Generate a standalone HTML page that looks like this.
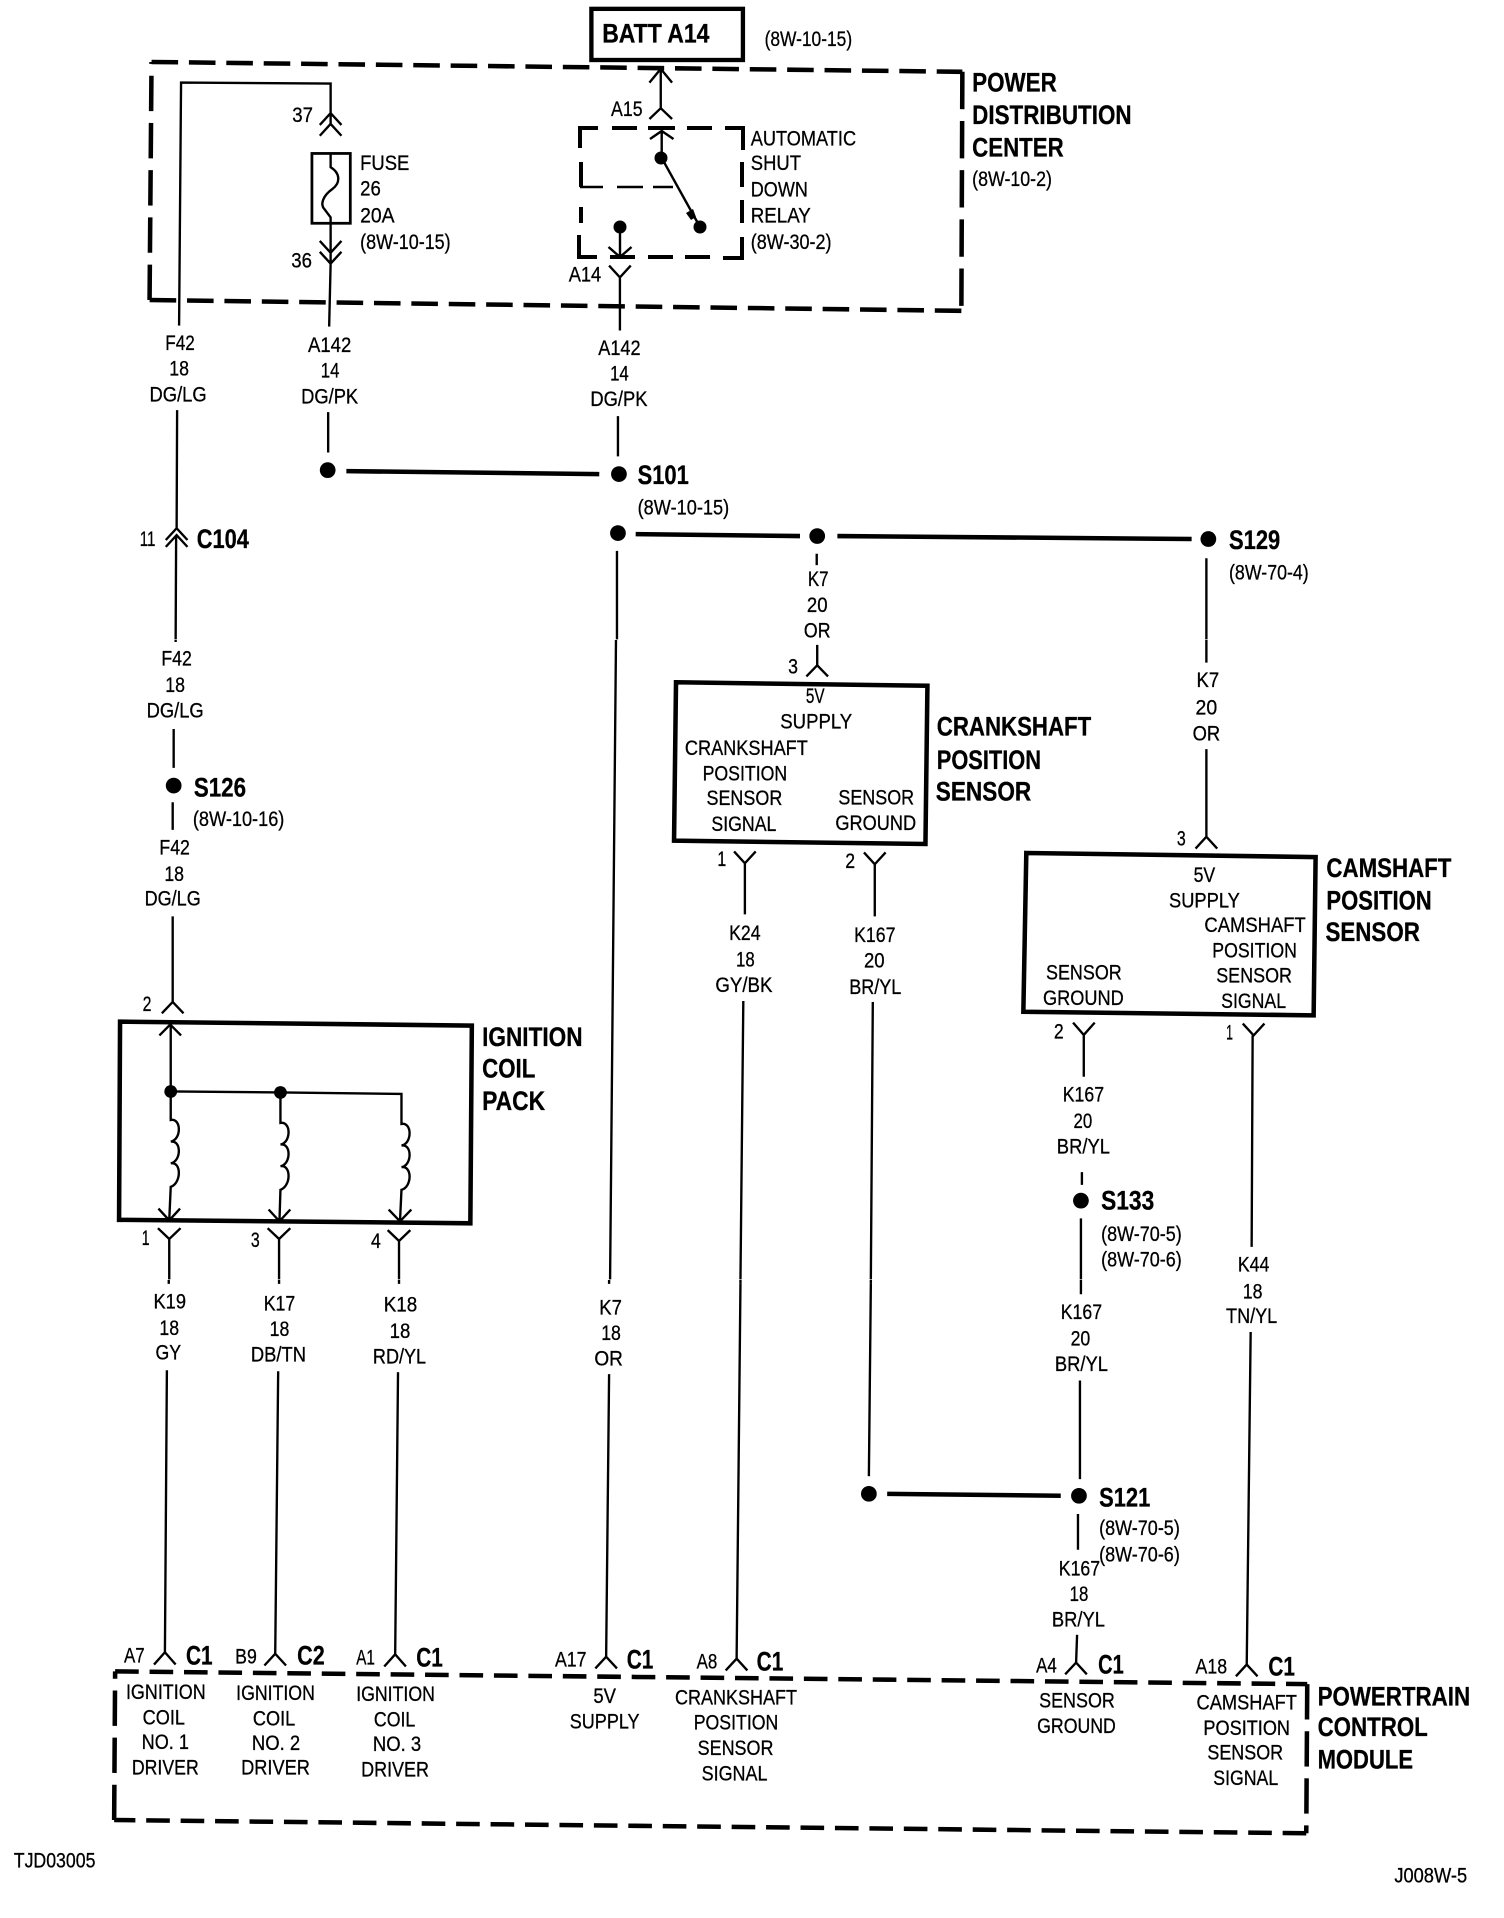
<!DOCTYPE html>
<html><head><meta charset="utf-8"><title>Wiring diagram</title>
<style>
html,body{margin:0;padding:0;background:#fff}
svg{display:block}
text{font-family:"Liberation Sans",sans-serif;font-size:21.5px;fill:#000;stroke:#000;stroke-width:.3}
.b text{font-weight:bold;font-size:27px}
.w{fill:none;stroke:#000;stroke-width:2.4}
.t{fill:none;stroke:#000;stroke-width:4.6}
.d{fill:#000}
</style></head><body>
<svg xmlns="http://www.w3.org/2000/svg" width="1504" height="1918" viewBox="0 0 1504 1918">
<rect width="1504" height="1918" fill="#fff"/>

<!-- Relay, in page coordinates -->
<path class="t" style="stroke-width:4" d="M598,128 H580 V148 M612,128 H637 M648,128 H675 M687,128 H712 M725,128 H743 V150 M742,162 V187 M742,200 V223 M742,237 V258 H723 M710,257 H685 M673,257 H648 M635,257 H610 M597,257 H579 V235 M581,223 V207 M581,187 V162"/>
<path class="w" style="stroke-width:2.6" d="M580,187 H603 M617,187 H643 M653,187 H673"/>
<path class="w" d="M661.7,132 V158 L700,227 M650,139 L661.7,131 L673.5,139 M620,227 V257 M608.5,247 L620,257 L631.5,247"/>
<circle class="d" cx="661" cy="158" r="6.5"/>
<circle class="d" cx="700" cy="227" r="6.5"/>
<circle class="d" cx="620" cy="227" r="6.5"/>
<path class="d" d="M686,213 L693,209 L696,217 L691,220 Z"/>

<!-- SECTION 1 -->
<g transform="matrix(.984 0 0 .9836 0 0)">
<rect x="601" y="9" width="154" height="52" fill="none" stroke="#000" stroke-width="4.4"/>
<path class="t" stroke-dasharray="27 11" d="M154,63 L978,73"/>
<path class="t" stroke-dasharray="38 12" d="M978,73 L977,316"/>
<path class="t" stroke-dasharray="27 11" d="M977,316 L152,305"/>
<path class="t" stroke-dasharray="36 12" d="M152,305 L154,63"/>
<path class="w" d="M182,331 L184,84 L336,85 V126 M325,127 L336,115 L347,127 M325,138 L336,126 L347,138"/>
<rect x="317" y="156" width="39" height="71" fill="none" stroke="#000" stroke-width="2.8"/>
<path class="w" d="M336,156 V170 C346,176 346,186 338,192 C328,199 325,208 330,213 L336,221 V268 M325,245 L336,257 L347,245 M325,256 L336,268 L347,256 M336,268 L334.5,332 M333.5,419 V460"/>
<path class="w" d="M671.5,70 V110 M660,84 L671.5,70 L683,84 M660,121 L671.5,110 L683,121"/>
<path class="w" d="M619,270 L630,282 L641,270 M630,282 V336 M628,423 V464"/>
<circle class="d" cx="333" cy="478" r="8"/>
<path class="t" d="M352,479 L609,482"/>
<circle class="d" cx="629" cy="482" r="8"/>
<circle class="d" cx="628" cy="542" r="8"/>
<path class="t" d="M646,543 L813,545"/>
<circle class="d" cx="830.5" cy="545" r="8"/>
<path class="t" d="M851,545 L1211,548"/>
<circle class="d" cx="1228" cy="548" r="8"/>
<path class="w" d="M627,560 V650 M830,563 V574.5 M1226,567.5 V650 M180,417 L179.5,537 M168.5,549 L179.5,537 L190.5,549 M168.5,556 L179.5,544 L190.5,556 M179,544 L178.5,650"/>
<text x="777" y="47" textLength="89" lengthAdjust="spacingAndGlyphs">(8W-10-15)</text>
<text x="988" y="189" textLength="81" lengthAdjust="spacingAndGlyphs">(8W-10-2)</text>
<text x="297" y="124" textLength="21" lengthAdjust="spacingAndGlyphs">37</text>
<text x="366" y="173" textLength="50" lengthAdjust="spacingAndGlyphs">FUSE</text>
<text x="366" y="199" textLength="21" lengthAdjust="spacingAndGlyphs">26</text>
<text x="366" y="226" textLength="35" lengthAdjust="spacingAndGlyphs">20A</text>
<text x="366" y="253" textLength="92" lengthAdjust="spacingAndGlyphs">(8W-10-15)</text>
<text x="296" y="272" textLength="21" lengthAdjust="spacingAndGlyphs">36</text>
<text x="621" y="118" textLength="32" lengthAdjust="spacingAndGlyphs">A15</text>
<text x="578" y="286" textLength="33" lengthAdjust="spacingAndGlyphs">A14</text>
<text x="763" y="148" textLength="107" lengthAdjust="spacingAndGlyphs">AUTOMATIC</text>
<text x="763" y="173" textLength="51" lengthAdjust="spacingAndGlyphs">SHUT</text>
<text x="763" y="200" textLength="58" lengthAdjust="spacingAndGlyphs">DOWN</text>
<text x="763" y="226" textLength="61" lengthAdjust="spacingAndGlyphs">RELAY</text>
<text x="763" y="253" textLength="82" lengthAdjust="spacingAndGlyphs">(8W-30-2)</text>
<text x="168" y="356" textLength="30" lengthAdjust="spacingAndGlyphs">F42</text>
<text x="172" y="382" textLength="20" lengthAdjust="spacingAndGlyphs">18</text>
<text x="152" y="408" textLength="58" lengthAdjust="spacingAndGlyphs">DG/LG</text>
<text x="313" y="358" textLength="44" lengthAdjust="spacingAndGlyphs">A142</text>
<text x="326" y="384" textLength="19" lengthAdjust="spacingAndGlyphs">14</text>
<text x="306" y="410" textLength="58" lengthAdjust="spacingAndGlyphs">DG/PK</text>
<text x="608" y="361" textLength="43" lengthAdjust="spacingAndGlyphs">A142</text>
<text x="620" y="387" textLength="19" lengthAdjust="spacingAndGlyphs">14</text>
<text x="600" y="413" textLength="58" lengthAdjust="spacingAndGlyphs">DG/PK</text>
<text x="648" y="523" textLength="93" lengthAdjust="spacingAndGlyphs">(8W-10-15)</text>
<text x="142" y="555" textLength="16" lengthAdjust="spacingAndGlyphs">11</text>
<text x="1249" y="589" textLength="81" lengthAdjust="spacingAndGlyphs">(8W-70-4)</text>
<text x="821" y="596" textLength="21" lengthAdjust="spacingAndGlyphs">K7</text>
<text x="820" y="622" textLength="21" lengthAdjust="spacingAndGlyphs">20</text>
<text x="817" y="648" textLength="27" lengthAdjust="spacingAndGlyphs">OR</text>
<g class="b">
<text x="612" y="43" textLength="109" lengthAdjust="spacingAndGlyphs">BATT A14</text>
<text x="988" y="93" textLength="86" lengthAdjust="spacingAndGlyphs">POWER</text>
<text x="988" y="126" textLength="162" lengthAdjust="spacingAndGlyphs">DISTRIBUTION</text>
<text x="988" y="159" textLength="93" lengthAdjust="spacingAndGlyphs">CENTER</text>
<text x="648" y="492" textLength="52" lengthAdjust="spacingAndGlyphs">S101</text>
<text x="200" y="557" textLength="53" lengthAdjust="spacingAndGlyphs">C104</text>
<text x="1249" y="558" textLength="52" lengthAdjust="spacingAndGlyphs">S129</text>
</g>
</g>

<!-- SECTION 2 -->
<g transform="matrix(.984 0 0 .9836 0 10.5)">
<path class="w" d="M178.5,640 V642 M176.5,730.5 V770 M175.5,805 V833 M175.5,921 V1008 M164.5,1019.5 L175.5,1008 L186.5,1019.5"/>
<circle class="d" cx="176.5" cy="788" r="8"/>
<path class="t" d="M122,1028 L479.5,1032 L478,1233 L121,1229.5 Z"/>
<path class="w" d="M162,1042 L173,1031 L184,1042 M173.5,1031 V1128 c11,-2 11,20 0,22 c11,-2 11,20 0,22 c11,-2 11,20 0,24 L172,1230 M161,1218 L172,1230 L183,1218"/>
<path class="w" d="M173.5,1099 L285,1100 L408,1101.5 V1132 c11,-2 11,20 0,22 c11,-2 11,20 0,22 c11,-2 11,20 0,23 L406.5,1231 M395,1219 L406.5,1231 L418,1219"/>
<path class="w" d="M285,1100 V1131 c11,-2 11,20 0,22 c11,-2 11,20 0,22 c11,-2 11,20 0,24 L284,1231 M273,1219 L284,1231 L295,1219"/>
<circle class="d" cx="173.5" cy="1099" r="6.5"/>
<circle class="d" cx="285" cy="1100" r="6.5"/>
<path class="w" d="M160.5,1238 L172,1249 L183.5,1238 M172,1249 V1290 M272,1238 L283.6,1249 L295,1238 M283.6,1249 V1290 M394,1240 L405.5,1251 L417,1240 M405.5,1251 V1290"/>
<path class="w" d="M626,640 L620,1290 M830.5,645 V665.7 M819.5,677 L830.5,665.7 L841.5,677"/>
<path class="t" d="M687,683 L942.5,686.5 L940.5,847.4 L685,844 Z"/>
<path class="w" d="M746,855 L757,867 L768,855 M757,867 V919 M878,856 L889,868 L900,856 M889,868 V921 M755.4,1007 L752.5,1290 M887,1008 L885,1290"/>
<path class="w" d="M1226,640 V663 M1226,751 V840 M1215,852 L1226,840 L1237,852"/>
<path class="t" d="M1043,856.5 L1337,860.7 L1335,1021.6 L1040,1018 Z"/>
<path class="w" d="M1090.5,1029 L1101.4,1041.5 L1112.5,1029 M1101.4,1041.5 V1084 M1263,1030 L1274,1042 L1285,1030 M1273,1042 L1272,1257 M1099.5,1181 V1194 M1098.5,1228 V1290"/>
<circle class="d" cx="1098.5" cy="1210" r="8"/>
<text x="164" y="666" textLength="31" lengthAdjust="spacingAndGlyphs">F42</text>
<text x="168" y="693" textLength="20" lengthAdjust="spacingAndGlyphs">18</text>
<text x="149" y="719" textLength="58" lengthAdjust="spacingAndGlyphs">DG/LG</text>
<text x="196" y="829" textLength="93" lengthAdjust="spacingAndGlyphs">(8W-10-16)</text>
<text x="162" y="858" textLength="31" lengthAdjust="spacingAndGlyphs">F42</text>
<text x="167" y="885" textLength="20" lengthAdjust="spacingAndGlyphs">18</text>
<text x="147" y="910" textLength="57" lengthAdjust="spacingAndGlyphs">DG/LG</text>
<text x="801" y="674" textLength="10" lengthAdjust="spacingAndGlyphs">3</text>
<text x="819" y="704" textLength="19" lengthAdjust="spacingAndGlyphs">5V</text>
<text x="793" y="730" textLength="73" lengthAdjust="spacingAndGlyphs">SUPPLY</text>
<text x="696" y="757" textLength="125" lengthAdjust="spacingAndGlyphs">CRANKSHAFT</text>
<text x="714" y="783" textLength="86" lengthAdjust="spacingAndGlyphs">POSITION</text>
<text x="718" y="808" textLength="77" lengthAdjust="spacingAndGlyphs">SENSOR</text>
<text x="723" y="834" textLength="66" lengthAdjust="spacingAndGlyphs">SIGNAL</text>
<text x="852" y="807" textLength="77" lengthAdjust="spacingAndGlyphs">SENSOR</text>
<text x="849" y="833" textLength="82" lengthAdjust="spacingAndGlyphs">GROUND</text>
<text x="729" y="870" textLength="9" lengthAdjust="spacingAndGlyphs">1</text>
<text x="859" y="872" textLength="10" lengthAdjust="spacingAndGlyphs">2</text>
<text x="741" y="945" textLength="32" lengthAdjust="spacingAndGlyphs">K24</text>
<text x="748" y="972" textLength="19" lengthAdjust="spacingAndGlyphs">18</text>
<text x="727" y="998" textLength="58" lengthAdjust="spacingAndGlyphs">GY/BK</text>
<text x="868" y="947" textLength="42" lengthAdjust="spacingAndGlyphs">K167</text>
<text x="878" y="973" textLength="21" lengthAdjust="spacingAndGlyphs">20</text>
<text x="863" y="1000" textLength="53" lengthAdjust="spacingAndGlyphs">BR/YL</text>
<text x="1216" y="688" textLength="23" lengthAdjust="spacingAndGlyphs">K7</text>
<text x="1215" y="716" textLength="22" lengthAdjust="spacingAndGlyphs">20</text>
<text x="1212" y="742" textLength="28" lengthAdjust="spacingAndGlyphs">OR</text>
<text x="1196" y="849" textLength="9" lengthAdjust="spacingAndGlyphs">3</text>
<text x="1213" y="886" textLength="22" lengthAdjust="spacingAndGlyphs">5V</text>
<text x="1188" y="912" textLength="72" lengthAdjust="spacingAndGlyphs">SUPPLY</text>
<text x="1224" y="937" textLength="103" lengthAdjust="spacingAndGlyphs">CAMSHAFT</text>
<text x="1232" y="963" textLength="86" lengthAdjust="spacingAndGlyphs">POSITION</text>
<text x="1236" y="988" textLength="77" lengthAdjust="spacingAndGlyphs">SENSOR</text>
<text x="1241" y="1014" textLength="66" lengthAdjust="spacingAndGlyphs">SIGNAL</text>
<text x="1063" y="985" textLength="77" lengthAdjust="spacingAndGlyphs">SENSOR</text>
<text x="1060" y="1011" textLength="82" lengthAdjust="spacingAndGlyphs">GROUND</text>
<text x="1071" y="1045" textLength="10" lengthAdjust="spacingAndGlyphs">2</text>
<text x="1246" y="1046" textLength="7" lengthAdjust="spacingAndGlyphs">1</text>
<text x="1080" y="1109" textLength="42" lengthAdjust="spacingAndGlyphs">K167</text>
<text x="1091" y="1136" textLength="19" lengthAdjust="spacingAndGlyphs">20</text>
<text x="1074" y="1162" textLength="54" lengthAdjust="spacingAndGlyphs">BR/YL</text>
<text x="1119" y="1251" textLength="82" lengthAdjust="spacingAndGlyphs">(8W-70-5)</text>
<text x="1119" y="1277" textLength="82" lengthAdjust="spacingAndGlyphs">(8W-70-6)</text>
<text x="1258" y="1282" textLength="32" lengthAdjust="spacingAndGlyphs">K44</text>
<text x="145" y="1017" textLength="9" lengthAdjust="spacingAndGlyphs">2</text>
<text x="144" y="1255" textLength="8" lengthAdjust="spacingAndGlyphs">1</text>
<text x="255" y="1257" textLength="9" lengthAdjust="spacingAndGlyphs">3</text>
<text x="377" y="1258" textLength="10" lengthAdjust="spacingAndGlyphs">4</text>
<g class="b">
<text x="197" y="799" textLength="53" lengthAdjust="spacingAndGlyphs">S126</text>
<text x="952" y="737" textLength="157" lengthAdjust="spacingAndGlyphs">CRANKSHAFT</text>
<text x="952" y="771" textLength="106" lengthAdjust="spacingAndGlyphs">POSITION</text>
<text x="951" y="803" textLength="97" lengthAdjust="spacingAndGlyphs">SENSOR</text>
<text x="1348" y="881" textLength="127" lengthAdjust="spacingAndGlyphs">CAMSHAFT</text>
<text x="1348" y="914" textLength="107" lengthAdjust="spacingAndGlyphs">POSITION</text>
<text x="1347" y="946" textLength="96" lengthAdjust="spacingAndGlyphs">SENSOR</text>
<text x="1119" y="1219" textLength="54" lengthAdjust="spacingAndGlyphs">S133</text>
<text x="490" y="1053" textLength="102" lengthAdjust="spacingAndGlyphs">IGNITION</text>
<text x="490" y="1085" textLength="54" lengthAdjust="spacingAndGlyphs">COIL</text>
<text x="490" y="1118" textLength="64" lengthAdjust="spacingAndGlyphs">PACK</text>
</g>
</g>

<!-- SECTION 3 -->
<g transform="matrix(.984 0 0 .981 0 24.3)">
<path class="w" d="M171.5,1280 V1284 M283.6,1280 V1284 M405.5,1280 V1284 M619,1280 V1284 M752.5,1280 V1284 M885,1280 V1284 M1098.5,1280 V1294.5"/>
<path class="w" d="M169.6,1372 L167.6,1659.5 M156.5,1672 L167.6,1659.5 L178.5,1672"/>
<path class="w" d="M282.7,1373 L279.7,1661 M268.7,1673 L279.7,1661 L290.7,1673"/>
<path class="w" d="M404.5,1374 L401.6,1661.6 M390.5,1674 L401.6,1661.6 L412.5,1674"/>
<path class="w" d="M619,1376 L616,1664 M605,1676 L616,1664 L627,1676"/>
<path class="w" d="M752.5,1284 L748.6,1666 M737.5,1678 L748.6,1666 L759.5,1678"/>
<path class="w" d="M885,1284 L883,1480 M1097.5,1382.5 V1483 M1095.5,1518.5 V1555 M1094.6,1641.7 L1093.6,1670 M1082.5,1682 L1093.6,1670 L1104.5,1682"/>
<path class="w" d="M1271,1333 L1267,1672 M1256,1684 L1267,1672 L1278,1684"/>
<circle class="d" cx="883" cy="1498" r="8"/>
<path class="t" d="M901.6,1498 L1078,1500"/>
<circle class="d" cx="1096.5" cy="1500" r="8"/>
<path class="t" stroke-dasharray="24 11" d="M117,1679 L1328.5,1692"/>
<path class="t" stroke-dasharray="36 12" d="M1328.5,1692 L1327.5,1844"/>
<path class="t" stroke-dasharray="24 11" d="M1327.5,1844 L116,1830.5"/>
<path class="t" stroke-dasharray="36 12" d="M116,1830.5 L117,1679"/>
<text x="156" y="1309" textLength="33" lengthAdjust="spacingAndGlyphs">K19</text>
<text x="162" y="1336" textLength="20" lengthAdjust="spacingAndGlyphs">18</text>
<text x="158" y="1361" textLength="26" lengthAdjust="spacingAndGlyphs">GY</text>
<text x="268" y="1311" textLength="32" lengthAdjust="spacingAndGlyphs">K17</text>
<text x="274" y="1337" textLength="20" lengthAdjust="spacingAndGlyphs">18</text>
<text x="255" y="1363" textLength="56" lengthAdjust="spacingAndGlyphs">DB/TN</text>
<text x="390" y="1312" textLength="34" lengthAdjust="spacingAndGlyphs">K18</text>
<text x="396" y="1339" textLength="21" lengthAdjust="spacingAndGlyphs">18</text>
<text x="379" y="1365" textLength="54" lengthAdjust="spacingAndGlyphs">RD/YL</text>
<text x="609" y="1315" textLength="23" lengthAdjust="spacingAndGlyphs">K7</text>
<text x="611" y="1341" textLength="20" lengthAdjust="spacingAndGlyphs">18</text>
<text x="604" y="1367" textLength="29" lengthAdjust="spacingAndGlyphs">OR</text>
<text x="1078" y="1320" textLength="42" lengthAdjust="spacingAndGlyphs">K167</text>
<text x="1088" y="1347" textLength="20" lengthAdjust="spacingAndGlyphs">20</text>
<text x="1072" y="1373" textLength="54" lengthAdjust="spacingAndGlyphs">BR/YL</text>
<text x="1263" y="1299" textLength="20" lengthAdjust="spacingAndGlyphs">18</text>
<text x="1246" y="1324" textLength="52" lengthAdjust="spacingAndGlyphs">TN/YL</text>
<text x="1117" y="1540" textLength="82" lengthAdjust="spacingAndGlyphs">(8W-70-5)</text>
<text x="1117" y="1567" textLength="82" lengthAdjust="spacingAndGlyphs">(8W-70-6)</text>
<text x="1076" y="1581" textLength="42" lengthAdjust="spacingAndGlyphs">K167</text>
<text x="1087" y="1607" textLength="19" lengthAdjust="spacingAndGlyphs">18</text>
<text x="1069" y="1633" textLength="54" lengthAdjust="spacingAndGlyphs">BR/YL</text>
<text x="126" y="1670" textLength="21" lengthAdjust="spacingAndGlyphs">A7</text>
<text x="239" y="1671" textLength="22" lengthAdjust="spacingAndGlyphs">B9</text>
<text x="362" y="1672" textLength="19" lengthAdjust="spacingAndGlyphs">A1</text>
<text x="564" y="1674" textLength="32" lengthAdjust="spacingAndGlyphs">A17</text>
<text x="708" y="1676" textLength="21" lengthAdjust="spacingAndGlyphs">A8</text>
<text x="1053" y="1680" textLength="21" lengthAdjust="spacingAndGlyphs">A4</text>
<text x="1215" y="1681" textLength="32" lengthAdjust="spacingAndGlyphs">A18</text>
<text x="128" y="1707" textLength="81" lengthAdjust="spacingAndGlyphs">IGNITION</text>
<text x="145" y="1733" textLength="43" lengthAdjust="spacingAndGlyphs">COIL</text>
<text x="144" y="1758" textLength="48" lengthAdjust="spacingAndGlyphs">NO. 1</text>
<text x="134" y="1784" textLength="68" lengthAdjust="spacingAndGlyphs">DRIVER</text>
<text x="240" y="1708" textLength="80" lengthAdjust="spacingAndGlyphs">IGNITION</text>
<text x="257" y="1734" textLength="43" lengthAdjust="spacingAndGlyphs">COIL</text>
<text x="256" y="1759" textLength="49" lengthAdjust="spacingAndGlyphs">NO. 2</text>
<text x="245" y="1784" textLength="70" lengthAdjust="spacingAndGlyphs">DRIVER</text>
<text x="362" y="1709" textLength="80" lengthAdjust="spacingAndGlyphs">IGNITION</text>
<text x="380" y="1735" textLength="42" lengthAdjust="spacingAndGlyphs">COIL</text>
<text x="379" y="1760" textLength="49" lengthAdjust="spacingAndGlyphs">NO. 3</text>
<text x="367" y="1786" textLength="69" lengthAdjust="spacingAndGlyphs">DRIVER</text>
<text x="603" y="1711" textLength="23" lengthAdjust="spacingAndGlyphs">5V</text>
<text x="579" y="1737" textLength="71" lengthAdjust="spacingAndGlyphs">SUPPLY</text>
<text x="686" y="1713" textLength="124" lengthAdjust="spacingAndGlyphs">CRANKSHAFT</text>
<text x="705" y="1738" textLength="86" lengthAdjust="spacingAndGlyphs">POSITION</text>
<text x="709" y="1764" textLength="77" lengthAdjust="spacingAndGlyphs">SENSOR</text>
<text x="713" y="1790" textLength="67" lengthAdjust="spacingAndGlyphs">SIGNAL</text>
<text x="1056" y="1716" textLength="77" lengthAdjust="spacingAndGlyphs">SENSOR</text>
<text x="1054" y="1742" textLength="80" lengthAdjust="spacingAndGlyphs">GROUND</text>
<text x="1216" y="1718" textLength="102" lengthAdjust="spacingAndGlyphs">CAMSHAFT</text>
<text x="1223" y="1744" textLength="88" lengthAdjust="spacingAndGlyphs">POSITION</text>
<text x="1227" y="1769" textLength="77" lengthAdjust="spacingAndGlyphs">SENSOR</text>
<text x="1233" y="1795" textLength="66" lengthAdjust="spacingAndGlyphs">SIGNAL</text>
<text x="14" y="1879" textLength="83" lengthAdjust="spacingAndGlyphs">TJD03005</text>
<text x="1417" y="1894" textLength="74" lengthAdjust="spacingAndGlyphs">J008W-5</text>
<g class="b">
<text x="1117" y="1511" textLength="52" lengthAdjust="spacingAndGlyphs">S121</text>
<text x="189" y="1672" textLength="27" lengthAdjust="spacingAndGlyphs">C1</text>
<text x="302" y="1672" textLength="28" lengthAdjust="spacingAndGlyphs">C2</text>
<text x="423" y="1674" textLength="27" lengthAdjust="spacingAndGlyphs">C1</text>
<text x="637" y="1676" textLength="27" lengthAdjust="spacingAndGlyphs">C1</text>
<text x="769" y="1678" textLength="27" lengthAdjust="spacingAndGlyphs">C1</text>
<text x="1116" y="1681" textLength="26" lengthAdjust="spacingAndGlyphs">C1</text>
<text x="1289" y="1683" textLength="27" lengthAdjust="spacingAndGlyphs">C1</text>
<text x="1339" y="1714" textLength="155" lengthAdjust="spacingAndGlyphs">POWERTRAIN</text>
<text x="1339" y="1745" textLength="112" lengthAdjust="spacingAndGlyphs">CONTROL</text>
<text x="1339" y="1778" textLength="97" lengthAdjust="spacingAndGlyphs">MODULE</text>
</g>
</g>
</svg>
</body></html>
